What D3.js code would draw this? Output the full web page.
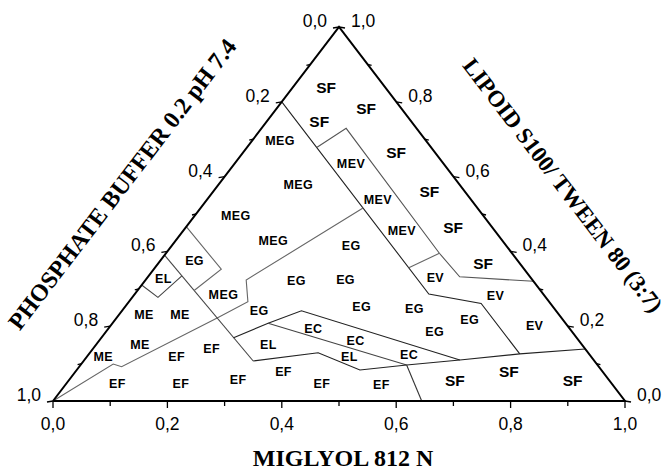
<!DOCTYPE html>
<html lang="en">
<head>
<meta charset="utf-8">
<title>Ternary phase diagram</title>
<script src="https://d3js.org/d3.v7.min.js"></script>
<style>
  body { margin: 0; background: #fff; }
</style>
</head>
<body>
<div id="chart"></div>
<script>
// compositions are [miglyol, lipoid/tween] fractions, buffer = 1 - both
const majorTicks = [0, 0.2, 0.4, 0.6, 0.8, 1.0];
const minorTicks = [0.1, 0.3, 0.5, 0.7, 0.9];
const bottomTickLabels = ["0,0", "0,2", "0,4", "0,6", "0,8", "1,0"];
const leftTickLabels = ["1,0", "0,8", "0,6", "0,4", "0,2", "0,0"];   // buffer, bottom to top
const rightTickLabels = ["0,0", "0,2", "0,4", "0,6", "0,8", "1,0"];  // surfactant, bottom to top

// phase boundaries
const lineA = [[0, 0.8], [0.514, 0.286], [0.618, 0.261], [0.753, 0.126]];
const lineB = [[0.122, 0.678], [0.148, 0.729], [0.478, 0.395], [0.545, 0.332], [0.68, 0.32]];
const evSplit = [[0.444, 0.356], [0.478, 0.395]];
const megLine = [[0.284, 0.516], [0.176, 0.3235], [0.208, 0.2655], [0.176, 0.222], [0.0741, 0.0917], [0.0558, 0.0989], [0, 0]];
const lineC = [[0, 0.39], [0.2965, 0.107]];
const elBox = [[0, 0.31], [0.045, 0.277], [0.058, 0.3346]];
const egBox = [[0, 0.466], [0.118, 0.3524], [0.099, 0.2955]];
const ecUpper = [[0.231, 0.1694], [0.2722, 0.2078], [0.3136, 0.2414], [0.6565, 0.1096]];
const ecMiddle = [[0.2722, 0.2078], [0.5701, 0.0963]];
const lowerLine = [[0.2965, 0.107], [0.399, 0.1291], [0.4951, 0.0829], [0.5701, 0.0963], [0.6565, 0.1096], [0.753, 0.126], [0.861, 0.139]];
const efSplit = [[0.5701, 0.0963], [0.6446, 0]];

// region names: [text, miglyol, surfactant]
const regionLabels = [
  ["SF", 0.058, 0.839], ["SF", 0.092, 0.747], ["SF", 0.156, 0.783],
  ["MEG", 0.049, 0.696], ["MEG", 0.140, 0.578], ["MEV", 0.203, 0.636],
  ["SF", 0.268, 0.664], ["MEG", 0.071, 0.497], ["MEV", 0.298, 0.540],
  ["SF", 0.378, 0.560], ["MEG", 0.171, 0.428], ["MEV", 0.382, 0.456],
  ["SF", 0.468, 0.463], ["EG", 0.313, 0.417], ["EG", 0.060, 0.375],
  ["SF", 0.568, 0.368], ["EV", 0.504, 0.329], ["EG", 0.265, 0.321],
  ["EG", 0.349, 0.325], ["EL", 0.029, 0.328], ["MEG", 0.155, 0.286],
  ["EV", 0.632, 0.283], ["EG", 0.413, 0.253], ["EG", 0.509, 0.246],
  ["EG", 0.240, 0.241], ["ME", 0.043, 0.232], ["ME", 0.106, 0.232],
  ["EG", 0.620, 0.217], ["EV", 0.741, 0.202], ["EG", 0.574, 0.187],
  ["EC", 0.358, 0.194], ["EC", 0.448, 0.162], ["ME", 0.076, 0.152],
  ["EL", 0.301, 0.151], ["EF", 0.207, 0.141], ["EC", 0.561, 0.123],
  ["EL", 0.459, 0.118], ["ME", 0.028, 0.120], ["EF", 0.156, 0.120],
  ["EF", 0.363, 0.080], ["SF", 0.758, 0.078], ["EF", 0.295, 0.057],
  ["SF", 0.675, 0.055], ["SF", 0.881, 0.055], ["EF", 0.089, 0.047],
  ["EF", 0.200, 0.047], ["EF", 0.447, 0.046], ["EF", 0.552, 0.044]
];

const width = 669, height = 470;
const svg = d3.select('#chart').append('svg')
  .attr('width', width)
  .attr('height', height)
  .style('background-color', 'white');

const xScale = d3.scaleLinear().domain([0, 1]).range([53, 625]);
const yScale = d3.scaleLinear().domain([0, 1]).range([401, 27]);

// ternary -> pixel; apex sits above the middle of the base
const px = (m, s) => xScale(m + s / 2);
const py = (m, s) => yScale(s);

const line = d3.line().x(d => px(d[0], d[1])).y(d => py(d[0], d[1]));

// boundaries
const boundaries = [
  [lineA, '#222'], [lineB, '#555'], [evSplit, '#666'], [megLine, '#666'],
  [lineC, '#444'], [elBox, '#444'], [egBox, '#666'], [ecUpper, '#222'],
  [ecMiddle, '#444'], [lowerLine, '#222'], [efSplit, '#333']
];
svg.selectAll('path.boundary')
  .data(boundaries)
  .enter()
  .append('path')
  .attr('class', 'boundary')
  .attr('d', d => line(d[0]))
  .attr('fill', 'none')
  .attr('stroke', d => d[1])
  .attr('stroke-width', 1.1);

// frame
const corners = [[0, 0], [1, 0], [0, 1], [0, 0]];
svg.append('path')
  .attr('d', line(corners))
  .attr('fill', 'none')
  .attr('stroke', '#000')
  .attr('stroke-width', 2)
  .attr('stroke-linejoin', 'miter');

const tickG = svg.append('g').attr('stroke', '#000').attr('stroke-width', 1.3);
const tickFont = 'Liberation Sans, Arial, sans-serif';

// bottom axis (miglyol)
majorTicks.forEach((t, i) => {
  tickG.append('line')
    .attr('x1', px(t, 0)).attr('x2', px(t, 0))
    .attr('y1', py(t, 0)).attr('y2', py(t, 0) + 7);
  svg.append('text')
    .attr('x', px(t, 0)).attr('y', py(t, 0) + 29)
    .attr('text-anchor', 'middle')
    .attr('font-family', tickFont)
    .attr('font-size', 17.5)
    .text(bottomTickLabels[i]);
});
minorTicks.forEach(t => {
  tickG.append('line')
    .attr('x1', px(t, 0)).attr('x2', px(t, 0))
    .attr('y1', py(t, 0)).attr('y2', py(t, 0) + 5);
});

// left axis (buffer) - points with miglyol 0
majorTicks.forEach((s, i) => {
  const x = px(0, s), y = py(0, s);
  tickG.append('line').attr('x1', x).attr('x2', x - 6).attr('y1', y).attr('y2', y + 1);
  svg.append('text')
    .attr('x', x - 12).attr('y', y)
    .attr('text-anchor', 'end')
    .attr('font-family', tickFont)
    .attr('font-size', 17.5)
    .text(leftTickLabels[i]);
});
minorTicks.forEach(s => {
  const x = px(0, s), y = py(0, s);
  tickG.append('line').attr('x1', x).attr('x2', x - 4).attr('y1', y).attr('y2', y + 1);
});

// right axis (lipoid/tween) - points with buffer 0
majorTicks.forEach((s, i) => {
  const x = px(1 - s, s), y = py(1 - s, s);
  tickG.append('line').attr('x1', x).attr('x2', x + 6).attr('y1', y).attr('y2', y + 1);
  svg.append('text')
    .attr('x', x + 12).attr('y', y)
    .attr('text-anchor', 'start')
    .attr('font-family', tickFont)
    .attr('font-size', 17.5)
    .text(rightTickLabels[i]);
});
minorTicks.forEach(s => {
  const x = px(1 - s, s), y = py(1 - s, s);
  tickG.append('line').attr('x1', x).attr('x2', x + 4).attr('y1', y).attr('y2', y + 1);
});

// region names
svg.selectAll('text.region')
  .data(regionLabels)
  .enter()
  .append('text')
  .attr('class', 'region')
  .attr('x', d => px(d[1], d[2]))
  .attr('y', d => py(d[1], d[2]))
  .attr('dy', '0.36em')
  .attr('text-anchor', 'middle')
  .attr('font-family', tickFont)
  .attr('font-weight', 'bold')
  .attr('font-size', d => d[0] === 'SF' ? 15.5 : 12.5)
  .attr('letter-spacing', d => d[0] === 'SF' ? 0 : 0.4)
  .text(d => d[0]);

// axis titles
const titleFont = 'Liberation Serif, Times New Roman, serif';
svg.append('text')
  .attr('x', 343).attr('y', 466)
  .attr('text-anchor', 'middle')
  .attr('font-family', titleFont)
  .attr('font-weight', 'bold')
  .attr('font-size', 24)
  .text('MIGLYOL 812 N');

const leftAngle = Math.atan2(py(0, 1) - py(0, 0), px(0, 1) - px(0, 0)) * 180 / Math.PI;
svg.append('text')
  .attr('transform', `translate(122, 184) rotate(${leftAngle})`)
  .attr('dy', '0.35em')
  .attr('text-anchor', 'middle')
  .attr('font-family', titleFont)
  .attr('font-weight', 'bold')
  .attr('font-size', 24)
  .text('PHOSPHATE BUFFER 0.2 pH 7.4');

const rightAngle = Math.atan2(py(1, 0) - py(0, 1), px(1, 0) - px(0, 1)) * 180 / Math.PI;
svg.append('text')
  .attr('transform', `translate(563, 185) rotate(${rightAngle})`)
  .attr('dy', '0.35em')
  .attr('text-anchor', 'middle')
  .attr('font-family', titleFont)
  .attr('font-weight', 'bold')
  .attr('font-size', 23)
  .text('LIPOID S100/ TWEEN 80 (3:7)');
</script>
</body>
</html>
